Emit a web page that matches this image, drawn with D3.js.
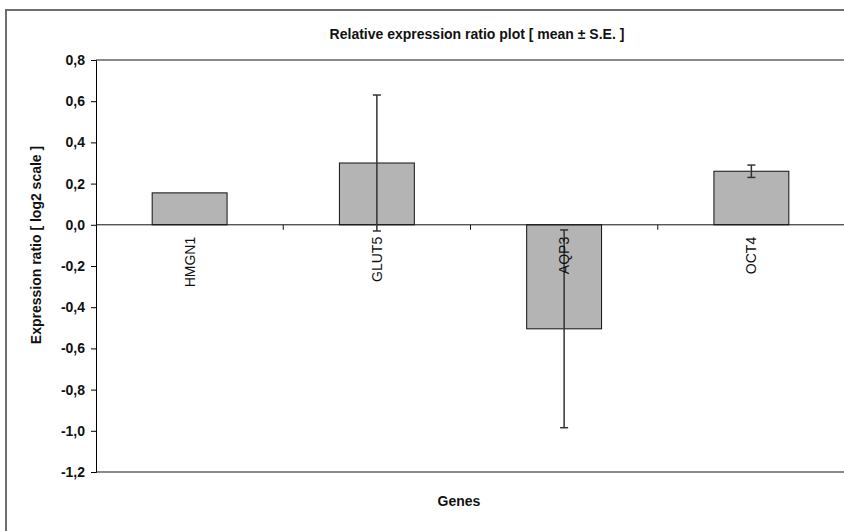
<!DOCTYPE html>
<html>
<head>
<meta charset="utf-8">
<script src="https://cdn.jsdelivr.net/npm/d3@7"></script>
<style>
  body { margin: 0; background: #fff; }
  text { font-family: "Liberation Sans", Arial, sans-serif; }
</style>
</head>
<body>
<div id="chart"></div>
<script>
    // data
    var genes = ["HMGN1", "GLUT5", "AQP3", "OCT4"];
    var means = [0.155, 0.30, -0.505, 0.26];
    var errs = [0, 0.33, 0.48, 0.03];
    var yTicks = [0.8, 0.6, 0.4, 0.2, 0.0, -0.2, -0.4, -0.6, -0.8, -1.0, -1.2];

    var width = 844, height = 531;
    var plotL = 96, plotR = 845, plotT = 60, plotB = 472;

    var svg = d3.select("#chart").append("svg")
        .attr("width", width)
        .attr("height", height);

    // outer frame
    svg.append("rect")
        .attr("x", 6).attr("y", 10)
        .attr("width", 900).attr("height", 600)
        .attr("fill", "none")
        .attr("stroke", "#6e6e6e")
        .attr("stroke-width", 2);

    var y = d3.scaleLinear().domain([-1.2, 0.8]).range([plotB, plotT]);
    var x = d3.scaleBand().domain(genes).range([plotL, plotR]).padding(0);

    // plot top/bottom border
    svg.append("line").attr("x1", plotL).attr("x2", plotR)
        .attr("y1", plotT).attr("y2", plotT)
        .attr("stroke", "#8a8a8a").attr("stroke-width", 2);
    svg.append("line").attr("x1", plotL).attr("x2", plotR)
        .attr("y1", plotB).attr("y2", plotB)
        .attr("stroke", "#8a8a8a").attr("stroke-width", 2);

    // y axis
    var yAxis = d3.axisLeft(y)
        .tickValues(yTicks)
        .tickSize(5)
        .tickPadding(6)
        .tickFormat(function (d) { return d3.format(".1f")(d).replace(".", ",").replace("\u2212", "-"); });
    var gy = svg.append("g")
        .attr("transform", "translate(" + plotL + ",0)")
        .call(yAxis);
    gy.select(".domain").attr("stroke", "#000");
    gy.selectAll("text")
        .attr("font-size", "14px")
        .attr("font-weight", "bold")
        .attr("fill", "#111");

    // bars
    var bw = x.bandwidth() * 0.4;
    svg.append("g").selectAll("rect")
        .data(genes)
        .enter().append("rect")
        .attr("x", function (d) { return x(d) + x.bandwidth() / 2 - bw / 2; })
        .attr("y", function (d, i) { return y(Math.max(0, means[i])); })
        .attr("width", bw)
        .attr("height", function (d, i) { return Math.abs(y(means[i]) - y(0)); })
        .attr("fill", "#b4b4b4")
        .attr("stroke", "#111")
        .attr("stroke-width", 1);

    // zero line with category ticks
    svg.append("line").attr("x1", plotL).attr("x2", plotR)
        .attr("y1", y(0)).attr("y2", y(0))
        .attr("stroke", "#111");
    svg.append("g").selectAll("line")
        .data(genes.slice(1))
        .enter().append("line")
        .attr("x1", function (d) { return x(d); })
        .attr("x2", function (d) { return x(d); })
        .attr("y1", y(0)).attr("y2", y(0) + 5)
        .attr("stroke", "#111");

    // error bars
    var eb = svg.append("g").selectAll("g")
        .data(genes.filter(function (d, i) { return errs[i] > 0; }))
        .enter().append("g");
    eb.append("line")
        .attr("x1", function (d) { return x(d) + x.bandwidth() / 2; })
        .attr("x2", function (d) { return x(d) + x.bandwidth() / 2; })
        .attr("y1", function (d) { var i = genes.indexOf(d); return y(means[i] + errs[i]); })
        .attr("y2", function (d) { var i = genes.indexOf(d); return y(means[i] - errs[i]); })
        .attr("stroke", "#333").attr("stroke-width", 1.5);
    [1, -1].forEach(function (s) {
        eb.append("line")
            .attr("x1", function (d) { return x(d) + x.bandwidth() / 2 - 4; })
            .attr("x2", function (d) { return x(d) + x.bandwidth() / 2 + 4; })
            .attr("y1", function (d) { var i = genes.indexOf(d); return y(means[i] + s * errs[i]); })
            .attr("y2", function (d) { var i = genes.indexOf(d); return y(means[i] + s * errs[i]); })
            .attr("stroke", "#333").attr("stroke-width", 1.5);
    });

    // category labels (rotated)
    svg.append("g").selectAll("text")
        .data(genes)
        .enter().append("text")
        .text(function (d) { return d; })
        .attr("transform", function (d) {
            return "translate(" + (x(d) + x.bandwidth() / 2 + 5) + "," + (y(0) + 12) + ") rotate(-90)";
        })
        .attr("text-anchor", "end")
        .attr("font-size", "14px")
        .attr("fill", "#111");

    // title
    svg.append("text")
        .attr("x", 477).attr("y", 39)
        .attr("text-anchor", "middle")
        .attr("font-size", "14px")
        .attr("font-weight", "bold")
        .attr("fill", "#111")
        .text("Relative expression ratio plot [ mean ± S.E. ]");

    // axis titles
    svg.append("text")
        .attr("transform", "translate(41,245) rotate(-90)")
        .attr("text-anchor", "middle")
        .attr("font-size", "14px")
        .attr("font-weight", "bold")
        .attr("fill", "#111")
        .text("Expression ratio [ log2 scale ]");
    svg.append("text")
        .attr("x", 459).attr("y", 506)
        .attr("text-anchor", "middle")
        .attr("font-size", "14px")
        .attr("font-weight", "bold")
        .attr("fill", "#111")
        .text("Genes");
</script>
</body>
</html>
